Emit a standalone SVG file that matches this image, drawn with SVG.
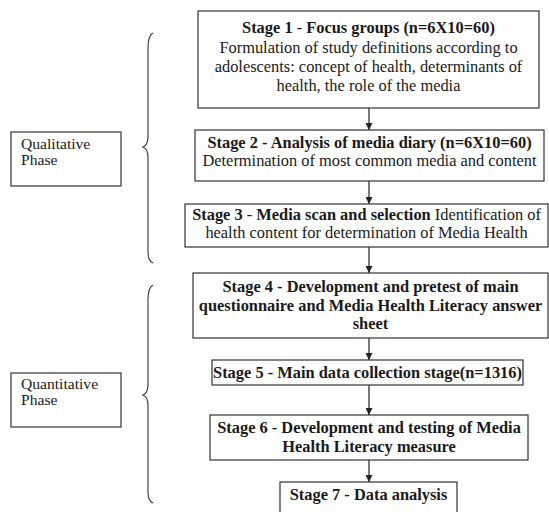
<svg xmlns="http://www.w3.org/2000/svg" width="549" height="512" viewBox="0 0 549 512" font-family="'Liberation Serif', 'DejaVu Serif', 'Times New Roman', serif">
<style>
rect.box{fill:#fff;stroke:#333;stroke-width:1.2}
text{font-family:'Liberation Serif','DejaVu Serif','Times New Roman',serif;font-size:16.4px;fill:#1a1a1a}
.c{text-anchor:middle}
.b{font-weight:bold}
.ph{font-size:15.6px}
.conn line{stroke:#222;stroke-width:1.2}
.brace{fill:none;stroke:#333;stroke-width:1.1}
</style>
<defs>
<marker id="ah" viewBox="0 0 8 8" refX="8" refY="4" markerWidth="7" markerHeight="7" markerUnits="userSpaceOnUse" orient="auto">
<path d="M0,0 L8,4 L0,8 Z" fill="#222"/>
</marker>
</defs>
<rect width="549" height="512" fill="#fff"/>
<g class="conn">
<line x1="369" y1="108" x2="369" y2="130" marker-end="url(#ah)"/>
<line x1="369" y1="181" x2="369" y2="204" marker-end="url(#ah)"/>
<line x1="369" y1="247" x2="369" y2="273" marker-end="url(#ah)"/>
<line x1="369" y1="338" x2="369" y2="360" marker-end="url(#ah)"/>
<line x1="369" y1="385" x2="369" y2="415" marker-end="url(#ah)"/>
<line x1="369" y1="460" x2="369" y2="482" marker-end="url(#ah)"/>
</g>
<g id="stage1">
<rect class="box" x="198" y="11" width="341" height="97"/>
<text class="c b" x="368.5" y="33">Stage 1 <tspan font-weight="normal">-</tspan> Focus groups (n=6X10=60)</text>
<text class="c" x="368.5" y="53">Formulation of study definitions according to</text>
<text class="c" x="368.5" y="72">adolescents: concept of health, determinants of</text>
<text class="c" x="368.5" y="91">health, the role of the media</text>
</g>
<g id="stage2">
<rect class="box" x="195" y="130" width="349" height="51"/>
<text class="c b" x="369.5" y="148">Stage 2 - Analysis of media diary (n=6X10=60)</text>
<text class="c" x="369.5" y="166">Determination of most common media and content</text>
</g>
<g id="stage3">
<rect class="box" x="185" y="204" width="363" height="43"/>
<text class="c" x="366.5" y="220"><tspan class="b">Stage 3 </tspan>-<tspan class="b"> Media scan and selection</tspan>  Identification of</text>
<text class="c" x="366.5" y="238">health content for determination of Media Health</text>
</g>
<g id="stage4">
<rect class="box" x="193" y="273" width="355" height="65"/>
<text class="c b" x="370.5" y="292">Stage 4 - Development and pretest of main</text>
<text class="c b" x="370.5" y="311">questionnaire and Media Health Literacy answer</text>
<text class="c b" x="370.5" y="329">sheet</text>
</g>
<g id="stage5">
<rect class="box" x="212" y="360" width="311" height="25"/>
<text class="c b" x="367.5" y="378">Stage 5 - Main data collection stage(n=1316)</text>
</g>
<g id="stage6">
<rect class="box" x="210" y="415" width="318" height="45"/>
<text class="c b" x="369" y="433">Stage 6 - Development and testing of Media</text>
<text class="c b" x="369" y="452">Health Literacy measure</text>
</g>
<g id="stage7">
<rect class="box" x="280" y="482" width="177" height="40"/>
<text class="c b" x="368.5" y="500">Stage 7 - Data analysis</text>
</g>
<g id="qualitative">
<rect class="box" x="11" y="132" width="110" height="54"/>
<text class="ph" x="21" y="149">Qualitative</text>
<text class="ph" x="21" y="165">Phase</text>
</g>
<g id="quantitative">
<rect class="box" x="11" y="373" width="110" height="54"/>
<text class="ph" x="21" y="389">Quantitative</text>
<text class="ph" x="21" y="405">Phase</text>
</g>
<path class="brace" d="M153,33 C149,35 148,40 148,48 L148,136 C148,142 146,146 143,147 C146,148 148,152 148,158 L148,250 C148,258 149,261 153,263"/>
<path class="brace" d="M153,285 C149,287 148,292 148,300 L148,384 C148,390 146,394 143,395 C146,396 148,400 148,406 L148,490 C148,498 149,501 153,503"/>
</svg>
